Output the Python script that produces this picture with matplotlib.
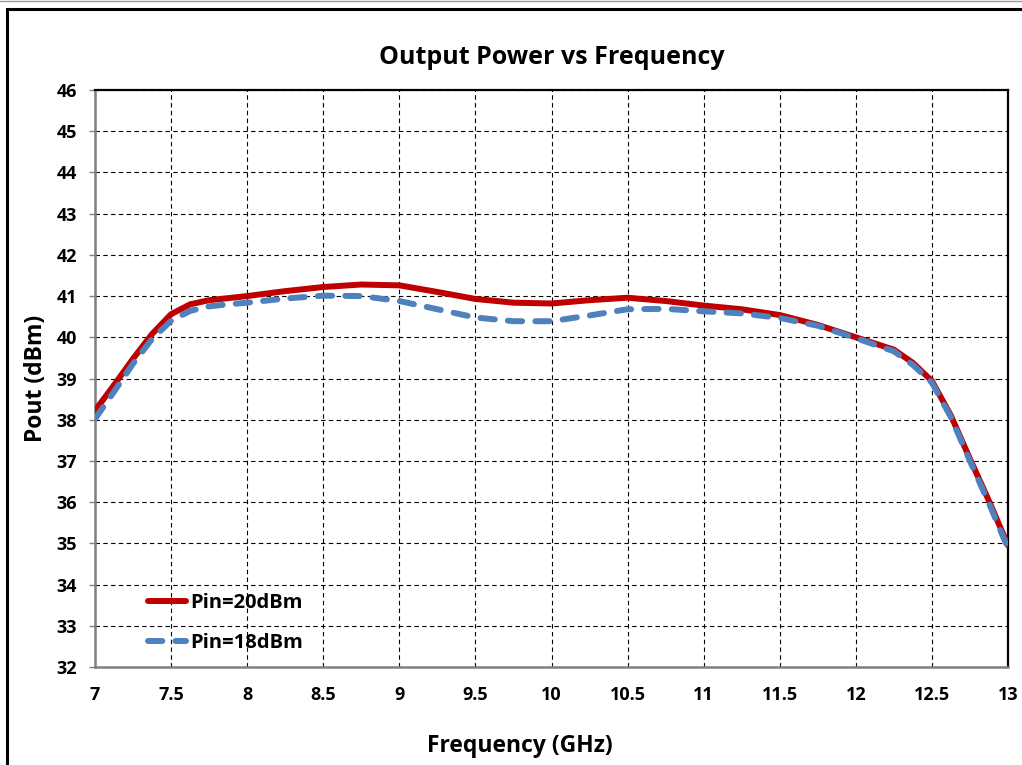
import matplotlib
matplotlib.use("Agg")
import matplotlib.pyplot as plt
from matplotlib.patches import Rectangle
from matplotlib.lines import Line2D

# Frequency sweep (GHz) and measured output power (dBm)
freq_ghz = [7.0, 7.125, 7.25, 7.375, 7.5, 7.625, 7.75, 7.875, 8.0, 8.25, 8.5,
            8.75, 9.0, 9.25, 9.5, 9.75, 10.0, 10.25, 10.5, 10.75, 11.0, 11.25,
            11.5, 11.75, 12.0, 12.25, 12.375, 12.5, 12.625, 12.75, 12.875, 13.0]
pout_pin20 = [38.22, 38.84, 39.48, 40.08, 40.56, 40.80, 40.90, 40.95, 41.00,
              41.12, 41.22, 41.28, 41.26, 41.10, 40.93, 40.84, 40.82, 40.90,
              40.96, 40.88, 40.77, 40.68, 40.54, 40.30, 40.00, 39.70, 39.38,
              38.94, 38.10, 37.05, 36.03, 34.95]
pout_pin18 = [38.02, 38.68, 39.36, 39.96, 40.40, 40.64, 40.75, 40.80, 40.84,
              40.94, 41.01, 41.00, 40.88, 40.68, 40.48, 40.39, 40.39, 40.53,
              40.68, 40.69, 40.63, 40.58, 40.47, 40.28, 39.98, 39.66, 39.33,
              38.90, 38.06, 37.00, 35.97, 34.88]

x_ticks = [7, 7.5, 8, 8.5, 9, 9.5, 10, 10.5, 11, 11.5, 12, 12.5, 13]
x_tick_labels = ["7", "7.5", "8", "8.5", "9", "9.5", "10", "10.5", "11",
                 "11.5", "12", "12.5", "13"]
y_ticks = list(range(32, 47))
series_labels = ["Pin=20dBm", "Pin=18dBm"]

plt.rcParams['font.family'] = ['Open Sans', 'DejaVu Sans']
plt.rcParams['font.weight'] = 'bold'

fig = plt.figure(figsize=(10.22, 7.65), dpi=100)
fig.patch.set_facecolor('white')

# outer chart frame
fig.add_artist(Line2D([0, 1], [1 - 0.5 / 765, 1 - 0.5 / 765],
                      transform=fig.transFigure, color='#9a9a9a', lw=1.0))
fig.add_artist(Rectangle((6.5 / 1022, -0.05), 1.2, (765 - 9) / 765 + 0.05,
                         transform=fig.transFigure, fill=False,
                         edgecolor='black', lw=2.2))

ax = fig.add_axes([95 / 1022, (765 - 667) / 765, (1008 - 95) / 1022, (667 - 90) / 765])

ax.plot(freq_ghz, pout_pin20, color='#C00000', lw=4.3, solid_capstyle='round',
        solid_joinstyle='round', label=series_labels[0], zorder=3)
ax.plot(freq_ghz, pout_pin18, color='#4F81BD', lw=4.3, dashes=(2.4, 2.2),
        dash_capstyle='round', dash_joinstyle='round',
        label=series_labels[1], zorder=4)

ax.set_xlim(7, 13)
ax.set_ylim(32, 46)
ax.set_xticks(x_ticks)
ax.set_xticklabels(x_tick_labels)
ax.set_yticks(y_ticks)

ax.grid(True, color='black', lw=0.8, linestyle=(0, (4, 3)))
ax.set_axisbelow(True)

for s in ['top', 'right']:
    ax.spines[s].set_color('black')
    ax.spines[s].set_linewidth(1.6)
for s in ['left', 'bottom']:
    ax.spines[s].set_color('#808080')
    ax.spines[s].set_linewidth(1.8)

ax.tick_params(axis='x', length=0, pad=14, labelsize=13)
ax.tick_params(axis='y', length=4, width=1, color='#808080', direction='out',
               pad=9, labelsize=13)
for lab in ax.get_xticklabels() + ax.get_yticklabels():
    lab.set_fontweight('bold')

ax.set_title("Output Power vs Frequency", fontsize=18, fontweight='bold', pad=19)
ax.set_xlabel("Frequency (GHz)", fontsize=16.5, fontweight='bold', labelpad=21,
              x=0.465)
ax.set_ylabel("Pout (dBm)", fontsize=16.5, fontweight='bold', labelpad=6)

leg = ax.legend(loc='lower left', bbox_to_anchor=(0.058, 0.025), frameon=False,
                fontsize=14.5, handlelength=1.9, handletextpad=0.2,
                labelspacing=0.95, borderaxespad=0.0, borderpad=0.0)
for t in leg.get_texts():
    t.set_fontweight('bold')

fig.savefig("out.png", dpi=100, facecolor='white')
